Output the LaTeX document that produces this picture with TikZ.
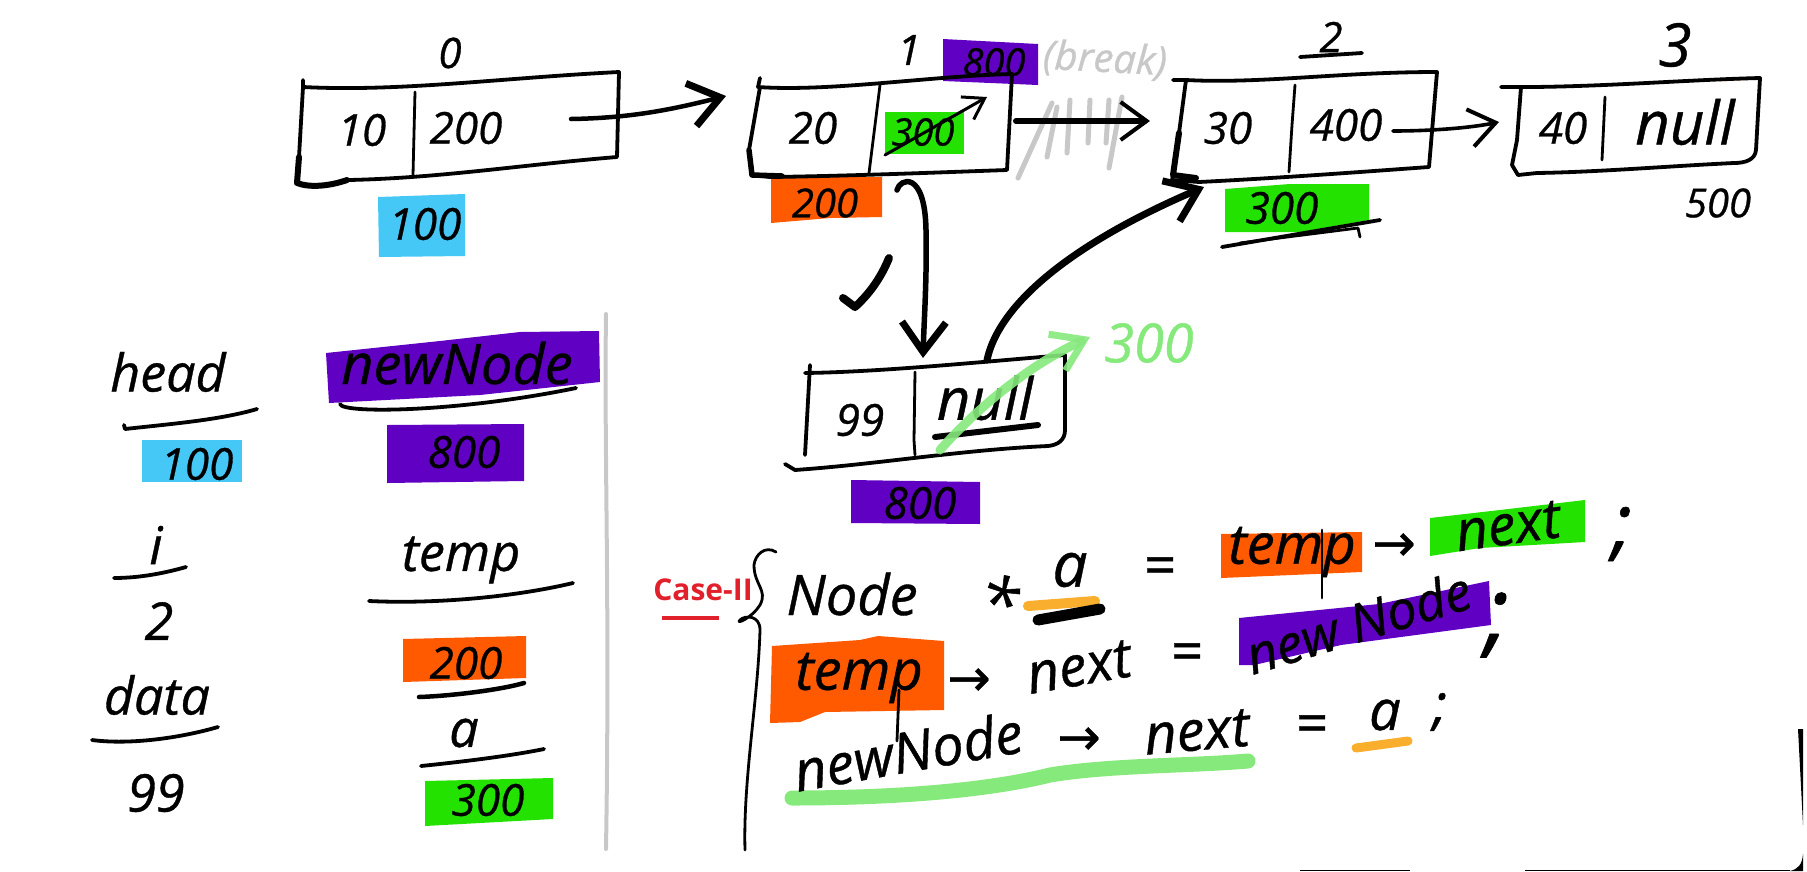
\documentclass[tikz,border=0pt]{standalone}
\usepackage{fontspec}
\setmainfont{Open Sans}[ItalicFeatures={FakeBold=0.7}]
\newfontfamily\arrowfont{DejaVu Sans}[FakeBold=0.7]
\usetikzlibrary{arrows.meta}
\definecolor{hlpurple}{HTML}{6000C2}
\definecolor{hlblue}{HTML}{45C8F6}
\definecolor{hlorange}{HTML}{FF5A00}
\definecolor{hlgreen}{HTML}{24E200}
\definecolor{softgreen}{HTML}{86E97C}
\definecolor{softgray}{HTML}{C8C8C8}
\definecolor{caseRed}{HTML}{E2202C}
\definecolor{softorange}{HTML}{F9AE2E}
\newcommand{\fsz}[1]{\fontsize{#1}{#1}\selectfont\itshape}
\tikzset{
  ink/.style={draw=black,line width=3.8pt,line cap=round,line join=round},
  thinink/.style={draw=black,line width=2.8pt,line cap=round,line join=round},
  val/.style={inner sep=0pt,text=black,font=\fsz{44}},
  big/.style={inner sep=0pt,text=black,font=\fsz{52}},
  code/.style={inner sep=0pt,text=black,font=\fsz{56}},
  arrowtext/.style={inner sep=0pt,text=black,font=\fontsize{52}{52}\selectfont\arrowfont},
  barb/.style={-{Straight Barb[length=26pt,width=38pt,line width=4pt]}},
  heavybarb/.style={-{Straight Barb[length=30pt,width=44pt,line width=7pt]}},
  softmark/.style={draw=softgray,line width=5pt,line cap=round}
}
\begin{document}
\begin{tikzpicture}[x=1pt,y=-1pt]
\useasboundingbox (0,0) rectangle (1807,871);
\fill[white] (0,0) rectangle (1807,871);
% highlights
\fill[hlblue] (378,197) -- (465,194) -- (465,256) -- (379,257) -- cycle;
\fill[hlpurple] (943,39) -- (1038,44) -- (1038,85) -- (943,81) -- cycle;
\fill[hlgreen] (885,112) rectangle (964,154);
\fill[hlorange] (771,177) -- (882,177) -- (882,217) -- (830,218) -- (771,223) -- cycle;
\fill[hlgreen] (1225,189) -- (1290,184) -- (1369,184) -- (1369,220) -- (1300,232) -- (1225,232) -- cycle;
\fill[hlpurple] (851,480) -- (980,482) -- (980,524) -- (851,523) -- cycle;
\fill[hlblue] (142,440) rectangle (242,482);
\fill[hlpurple] (326,353) -- (440,341) -- (520,332) -- (599,331) -- (600,382) -- (480,395) -- (329,403) -- cycle;
\fill[hlpurple] (387,425) -- (524,424) -- (524,481) -- (387,483) -- cycle;
\fill[hlorange] (403,639) -- (526,636) -- (526,678) -- (403,682) -- cycle;
\fill[hlgreen] (425,781) -- (553,778) -- (553,819) -- (425,826) -- cycle;
\fill[hlorange] (1221,534) -- (1362,532) -- (1362,572) -- (1221,578) -- cycle;
\fill[hlgreen] (1430,518) -- (1500,510) -- (1585,500) -- (1585,542) -- (1480,548) -- (1430,556) -- cycle;
\fill[hlorange] (772,646) -- (860,640) -- (878,636) -- (944,641) -- (944,710) -- (825,712) -- (800,722) -- (770,723) -- cycle;
\fill[hlpurple] (1239,618) -- (1379,604) -- (1489,581) -- (1491,625) -- (1341,645) -- (1254,665) -- (1239,665) -- cycle;
\draw[softmark,draw=softorange,line width=10pt] (1028,606) -- (1095,601);
\draw[softmark,draw=softorange,line width=9pt] (1356,748) -- (1408,741);
\draw[softmark,draw=softgreen,line width=15pt] (792,798) .. controls (900,798) and (990,790) .. (1050,775) .. controls (1110,765) and (1190,766) .. (1248,761);
\draw[softmark,draw=hlorange!30!white,line width=3pt] (1720,80) -- (1758,78);
% gray divider
\draw[softmark,line width=4pt] (606,314) .. controls (604,450) and (610,600) .. (606,849);
% hatch under (break)
\draw[softmark] (1018,178) -- (1052,103);
\draw[softmark] (1047,157) -- (1057,107);
\draw[softmark] (1067,153) -- (1070,100);
\draw[softmark] (1088,143) -- (1090,100);
\draw[softmark] (1106,143) -- (1109,100);
\draw[softmark] (1109,168) -- (1122,97);
% box 0
\draw[ink] (303,80) -- (303,87) .. controls (400,92) and (500,78) .. (619,72) -- (617,157) .. controls (520,165) and (440,178) .. (349,180) .. controls (330,186) and (310,188) .. (297,183) -- (299,157) -- (303,87);
\draw[ink,line width=6pt] (299,157) -- (297,183) .. controls (310,188) and (330,186) .. (347,180);
\draw[thinink] (415,92) -- (413,175);
% box 1
\draw[ink] (760,78) -- (758,87) .. controls (830,92) and (930,76) .. (1012,74) -- (1007,170) .. controls (950,172) and (850,176) .. (770,177) -- (752,175) -- (749,150) -- (760,87);
\draw[ink,line width=5.5pt] (749,150) -- (752,175) -- (782,176);
\draw[thinink] (880,85) -- (869,173);
% box 2
\draw[ink] (1173,80) -- (1186,80) .. controls (1260,84) and (1340,72) .. (1437,72) -- (1429,167) .. controls (1360,172) and (1280,178) .. (1199,182) -- (1172,180) -- (1173,175) -- (1179,133) -- (1186,80);
\draw[ink,line width=6pt] (1179,133) -- (1173,175) -- (1196,178);
\draw[thinink] (1295,85) -- (1292,125) -- (1289,172);
% box 3
\draw[ink] (1501,87) .. controls (1590,88) and (1680,80) .. (1760,78) -- (1756,150) .. controls (1755,160) and (1745,163) .. (1734,163) .. controls (1670,166) and (1600,172) .. (1537,173) -- (1518,175) -- (1512,165) -- (1517,140) -- (1521,87);
\draw[thinink] (1605,97) -- (1602,160);
% box new
\draw[ink] (810,365) -- (805,455);
\draw[ink] (805,373) .. controls (880,372) and (980,362) .. (1065,355) -- (1065,430) .. controls (1065,440) and (1058,445) .. (1048,446) .. controls (960,450) and (880,464) .. (795,470) -- (785,464);
\draw[thinink] (915,372) -- (914,440) -- (915,455);
% named connection points
\coordinate (n0out) at (571,119);
\coordinate (n1in) at (726,96);
\coordinate (n1out) at (1016,121);
\coordinate (n2in) at (1150,121);
\coordinate (n2out) at (1393,131);
\coordinate (n3in) at (1499,122);
\coordinate (n1down) at (897,190);
\coordinate (newin) at (923,358);
\coordinate (newout) at (987,360);
\coordinate (n2below) at (1204,187);
\coordinate (strikeA) at (885,155);
\coordinate (strikeB) at (987,97);
\coordinate (greenA) at (940,450);
\coordinate (greenB) at (1090,337);
% connectors
\draw[ink,heavybarb,line width=4.5pt] (n0out) .. controls (630,118) and (670,110) .. (n1in);
\draw[ink,barb,line width=6pt] (n1out) -- (n2in);
\draw[thinink,barb,line width=3.6pt] (n2out) .. controls (1430,131) and (1470,128) .. (n3in);
\draw[ink,heavybarb,line width=5.5pt] (n1down) .. controls (900,178) and (925,170) .. (926,230) .. controls (927,280) and (924,320) .. (newin);
\draw[ink,heavybarb,line width=7pt] (newout) .. controls (1000,300) and (1080,240) .. (n2below);
\draw[thinink,-{Straight Barb[length=20pt,width=26pt,line width=3pt]},line width=3pt] (strikeA) -- (strikeB);
% check mark
\draw[ink,line width=8pt] (843,298) -- (855,307) .. controls (868,295) and (880,280) .. (889,258);
% text: top row
\node[val,font=\fsz{42}] (i0) at (450,53) {0};
\node[val] (v0) at (362,130) {10};
\node[val] (p0) at (466,128) {200};
\node[val] (a0) at (425,224) {100};
\node[val,font=\fsz{42}] (i1) at (909,50) {1};
\node[val] (v1) at (813,128) {20};
\node[val,font=\fsz{38}] (p1) at (923,132) {300};
\node[val,font=\fsz{38}] (n1new) at (994,62) {800};
\node[val,font=\fsz{40}] (a1) at (825,203) {200};
\node[val,font=\fsz{40},text=softgray,rotate=-3] (brk) at (1105,60) {(break)};
\node[val,font=\fsz{42}] (i2) at (1331,37) {2};
\draw[ink] (1300,57) -- (1362,53);
\node[val] (v2) at (1228,128) {30};
\node[val] (p2) at (1346,125) {400};
\node[val,font=\fsz{44}] (a2) at (1282,208) {300};
\draw[ink] (1222,247) -- (1380,220);
\draw[thinink] (1240,243) -- (1358,228) -- (1360,237);
\node[val,font=\fsz{60}] (i3) at (1675,45) {3};
\node[val] (v3) at (1563,128) {40};
\node[val,font=\fsz{60}] (p3) at (1685,122) {null};
\node[val,font=\fsz{40}] (a3) at (1718,203) {500};
% text: new node
\node[val] (vn) at (860,420) {99};
\node[val,font=\fsz{58}] (pn) at (985,398) {null};
\draw[ink,line width=6pt] (935,437) -- (1038,425);
\node[val,font=\fsz{44}] (an) at (920,503) {800};
\draw[softmark,draw=softgreen,line width=9pt,-{Straight Barb[length=30pt,width=40pt,line width=7pt]},opacity=.9] (greenA) .. controls (980,405) and (1030,365) .. (greenB);
\node[val,font=\fsz{54},text=softgreen] (g300) at (1149,343) {300};
% variables
\node[big] (vhead) at (168,372) {head};
\draw[ink] (124,425) -- (125,429) .. controls (170,424) and (220,420) .. (257,409);
\node[val] (vheadv) at (197,464) {100};
\node[big] (vi) at (156,545) {i};
\draw[ink] (114,578) .. controls (140,578) and (165,573) .. (186,567);
\node[big] (vidx) at (159,621) {2};
\node[big] (vdata) at (157,695) {data};
\draw[ink] (92,740) .. controls (130,745) and (180,738) .. (218,727);
\node[big] (vdatav) at (156,793) {99};
\node[big,font=\fsz{56}] (vnew) at (457,363) {newNode};
\draw[ink] (340,404) .. controls (342,414) and (460,412) .. (576,388);
\node[val] (vnewv) at (464,452) {800};
\node[big] (vtemp) at (461,560) {temp};
\draw[ink] (369,601) .. controls (430,604) and (510,598) .. (573,583);
\node[val] (vtempv) at (466,663) {200};
\draw[ink,line width=4.5pt] (419,697) .. controls (450,696) and (500,690) .. (524,683);
\node[big] (va) at (464,733) {a};
\draw[ink] (421,766) .. controls (460,762) and (510,756) .. (544,749);
\node[val] (vav) at (488,800) {300};
% case label and brace
\node[inner sep=0pt,text=caseRed,font=\fontsize{30}{30}\selectfont\bfseries] (case) at (703,590) {Case-II};
\draw[draw=caseRed,line width=4.5pt] (662,618) -- (719,618);
\draw[thinink] (776,552) .. controls (765,545) and (755,555) .. (754,565) .. controls (754,585) and (768,590) .. (760,605) .. controls (752,618) and (735,625) .. (740,620) .. controls (745,615) and (760,615) .. (760,630) .. controls (758,700) and (743,780) .. (745,850);
% code lines
\node[code] (c1a) at (852,594) {Node};
\node[code,font=\fsz{70}] (c1b) at (1000,602) {*};
\node[code,font=\fsz{62}] (c1c) at (1070,570) {a};
\draw[ink,line width=11pt] (1038,620) -- (1100,609);
\node[code] (c1d) at (1159,571) {=};
\node[code] (c1e) at (1292,552) {temp};
\draw[thinink] (1322,530) -- (1322,598);
\node[arrowtext] (c1f) at (1394,547) {→};
\node[code,rotate=8] (c1g) at (1508,526) {next};
\node[code,font=\fsz{80}] (c1h) at (1622,534) {;};
\node[code] (c2a) at (859,678) {temp};
\draw[thinink] (899,690) -- (897,741);
\node[arrowtext] (c2b) at (969,682) {→};
\node[code,rotate=10] (c2c) at (1079,667) {next};
\node[code] (c2d) at (1186,657) {=};
\node[code,rotate=17,font=\fsz{53}] (c2e) at (1358,622) {new Node};
\node[code,font=\fsz{96}] (c2f) at (1497,625) {;};
\node[code,rotate=10] (c3a) at (908,751) {newNode};
\node[arrowtext] (c3b) at (1079,741) {→};
\node[code,rotate=5] (c3c) at (1197,732) {next};
\node[code] (c3d) at (1311,729) {=};
\node[code] (c3e) at (1385,715) {a};
\node[code] (c3f) at (1440,712) {;};
% frame remnants at bottom right
\fill[black] (1798,729) -- (1803,729) -- (1803,825) -- cycle;
\fill[black] (1790,871) .. controls (1798,869) and (1802,865) .. (1803,854) -- (1803,871) -- cycle;
\draw[black,line width=1pt] (1300,870.5) -- (1410,870.5);
\draw[black,line width=1pt] (1525,870.5) -- (1790,870.5);
\end{tikzpicture}
\end{document}
